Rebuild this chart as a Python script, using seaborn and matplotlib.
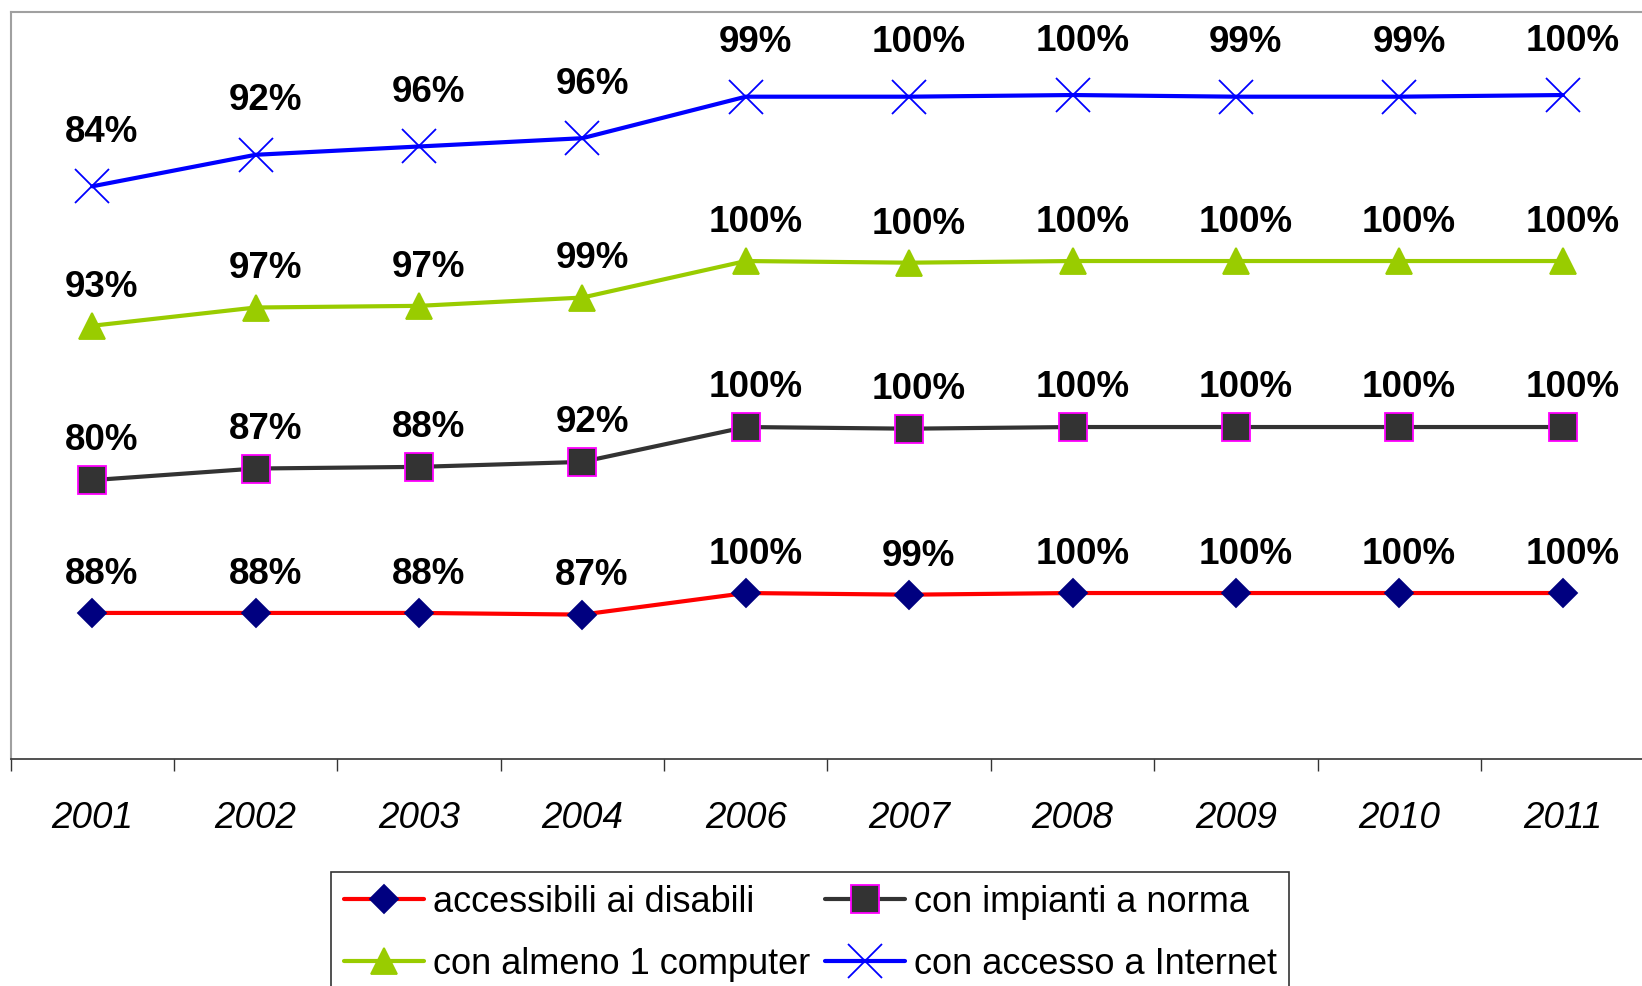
import numpy as np
import pandas as pd
import seaborn as sns
import matplotlib.pyplot as plt
from matplotlib.ticker import FixedLocator

# values (percent); Excel drew them as a stacked line chart
years = ['2001', '2002', '2003', '2004', '2006',
         '2007', '2008', '2009', '2010', '2011']
disabili = [88, 88, 88, 87, 100, 99, 100, 100, 100, 100]
impianti = [80, 87, 88, 92, 100, 100, 100, 100, 100, 100]
computer = [93, 97, 97, 99, 100, 100, 100, 100, 100, 100]
internet = [84, 92, 96, 96, 99, 100, 100, 99, 99, 100]
series_names = ['accessibili ai disabili', 'con impianti a norma',
                'con almeno 1 computer', 'con accesso a Internet']

sns.set_style('white')
plt.rcParams['font.family'] = ['Liberation Sans', 'DejaVu Sans']
plt.rcParams['text.color'] = 'black'
plt.rcParams['xtick.labelcolor'] = 'black'

# line colour, marker, marker face, marker edge, marker size, label offset
styles = [
    ('#FF0000', 'D', '#000080', '#000080', 14, 21),
    ('#333333', 's', '#333333', '#FF00FF', 19.5, 21.5),
    ('#99CC00', '^', '#99CC00', '#99CC00', 19, 21),
    ('#0000FF', 'x', '#0000FF', '#0000FF', 25, 32),
]


def main():
    values = np.array([disabili, impianti, computer, internet])
    stacked = np.cumsum(values, axis=0)

    fig = plt.figure(figsize=(16.42, 9.86), dpi=100)
    ax = fig.add_axes([0.0064, 0.2302, 0.9951, 0.7576])

    for name, vals, tops, st in zip(series_names, values, stacked, styles):
        line_c, mk, face, edge, ms, dy = st
        df = pd.DataFrame({'Anno': years, 'Valore': tops})
        sns.lineplot(data=df, x='Anno', y='Valore', ax=ax, color=line_c,
                     linewidth=3, marker=mk, markersize=ms,
                     markerfacecolor=face, markeredgecolor=edge,
                     markeredgewidth=1.3, label=name)
        for i, (v, t) in enumerate(zip(vals, tops)):
            ax.annotate('%d%%' % v, xy=(i, t), xytext=(7, dy),
                        textcoords='offset points', ha='center',
                        va='baseline', fontsize=26.5, fontweight='bold')

    ax.set_ylim(0, 450)
    ax.set_xlim(-0.5, len(years) - 0.5)
    ax.set_xlabel('')
    ax.set_ylabel('')
    ax.set_yticks([])

    ax.tick_params(axis='x', which='major', length=0, pad=30,
                   labelsize=26.5, labelcolor='black')
    for lab in ax.get_xticklabels():
        lab.set_fontstyle('italic')
    ax.xaxis.set_minor_locator(
        FixedLocator(np.arange(len(years) + 1) - 0.5))
    ax.tick_params(axis='x', which='minor', direction='out', length=8.5,
                   width=1, color='#333333', bottom=True)

    for side in ['left', 'top', 'right']:
        ax.spines[side].set_color('#A0A0A0')
        ax.spines[side].set_linewidth(1.5)
    ax.spines['bottom'].set_color('#333333')
    ax.spines['bottom'].set_linewidth(1.2)

    handles, labels = ax.get_legend_handles_labels()
    ax.get_legend().remove()
    order = [0, 2, 1, 3]
    leg = fig.legend([handles[i] for i in order], [labels[i] for i in order],
                     ncol=2, loc='upper center',
                     bbox_to_anchor=(0.4936, 0.1156), fontsize=26,
                     frameon=True, fancybox=False, borderaxespad=0,
                     handlelength=2.2, handletextpad=0.25,
                     columnspacing=0.43, labelspacing=0.75, borderpad=0.35)
    leg.get_frame().set_edgecolor('black')
    leg.get_frame().set_linewidth(1.2)

    fig.savefig('out.png', dpi=100)


if __name__ == '__main__':
    main()
